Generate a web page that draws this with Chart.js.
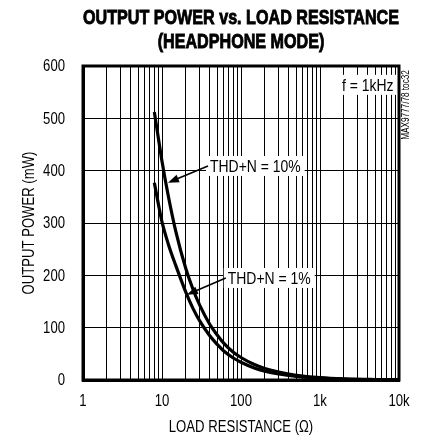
<!DOCTYPE html>
<html>
<head>
<meta charset="utf-8">
<script src="https://cdn.jsdelivr.net/npm/chart.js@4"></script>
<style>
  html, body { margin: 0; padding: 0; background: #fff; }
</style>
</head>
<body>
<canvas id="chart" width="421" height="440"></canvas>
<script>
// --- data ---
const loadOhms = [8, 9, 10, 12, 15, 20, 25, 30, 40, 50, 60, 80, 100, 150, 200, 300, 500, 1000, 2000, 5000, 10000];
const power10pct = [512, 462, 418, 352, 283, 213, 171, 143, 107, 86, 71, 53, 43, 29, 22, 15, 9, 4.5, 2.2, 0.9, 0.4];
const power1pct = [377, 336, 302, 260, 218, 168, 135, 113, 85, 68, 56, 42, 34, 22.5, 17, 11.5, 7, 3.5, 1.8, 0.7, 0.35];

const yTicks = [0, 100, 200, 300, 400, 500, 600];
const xDecades = [1, 10, 100, 1000, 10000];
const xDecadeLabels = ["1", "10", "100", "1k", "10k"];

// labels: text, anchor (ohms, mW) of text left-middle, arrow tip (ohms, mW)
const notes = [
    { text: "THD+N = 10%", at: [40.5, 409], tip: [11.9, 377] },
    { text: "THD+N = 1%", at: [68, 195], tip: [20.6, 163] },
    { text: "f = 1kHz", at: [1900, 564], tip: null },
];

const FONT = "Liberation Sans, sans-serif";
const NARROW = 0.82; // squeeze to look like a condensed face

// grid lines at 1..9 of every decade
const xGrid = [];
xDecades.slice(0, -1).forEach(d => {
    for (let i = 1; i < 10; i++) xGrid.push(d * i);
});
xGrid.push(10000);

// draw text squeezed horizontally
function narrowText(ctx, text, x, y, font, align, squeeze, heavy) {
    ctx.save();
    ctx.font = font;
    const w = ctx.measureText(text).width * squeeze;
    let left = x;
    if (align === "center") left = x - w / 2;
    if (align === "right") left = x - w;
    ctx.translate(left, y);
    ctx.scale(squeeze, 1);
    ctx.textAlign = "left";
    ctx.textBaseline = "middle";
    ctx.fillText(text, 0, 0);
    if (heavy) {
        ctx.lineWidth = heavy;
        ctx.strokeText(text, 0, 0);
    }
    ctx.restore();
    return w;
}

function arrow(ctx, x0, y0, x1, y1) {
    const a = Math.atan2(y1 - y0, x1 - x0);
    const len = 11, w = 4;
    ctx.beginPath();
    ctx.moveTo(x0, y0);
    ctx.lineTo(x1 - Math.cos(a) * len * 0.8, y1 - Math.sin(a) * len * 0.8);
    ctx.lineWidth = 1.5;
    ctx.stroke();
    ctx.beginPath();
    ctx.moveTo(x1, y1);
    ctx.lineTo(x1 - Math.cos(a) * len + Math.sin(a) * w, y1 - Math.sin(a) * len - Math.cos(a) * w);
    ctx.lineTo(x1 - Math.cos(a) * len - Math.sin(a) * w, y1 - Math.sin(a) * len + Math.cos(a) * w);
    ctx.closePath();
    ctx.fill();
}

const decorations = {
    id: "decorations",
    afterDatasetsDraw(chart) {
        const { ctx, chartArea: ca, scales: { x, y } } = chart;
        ctx.save();
        ctx.fillStyle = "#000";
        ctx.strokeStyle = "#000";

        // note labels with white boxes
        const noteFont = "17px " + FONT;
        notes.forEach(n => {
            const px = x.getPixelForValue(n.at[0]);
            const py = y.getPixelForValue(n.at[1]);
            ctx.font = noteFont;
            const w = ctx.measureText(n.text).width * NARROW;
            ctx.fillStyle = "#fff";
            ctx.fillRect(px - 4, py - 10, w + 8, 20);
            ctx.fillStyle = "#000";
            narrowText(ctx, n.text, px, py + 1, noteFont, "left", NARROW);
            if (n.tip) {
                arrow(ctx, px - 2, py, x.getPixelForValue(n.tip[0]), y.getPixelForValue(n.tip[1]));
            }
        });

        // frame
        ctx.lineWidth = 3;
        ctx.strokeRect(ca.left, ca.top, ca.right - ca.left, ca.bottom - ca.top);

        // tick labels
        const tickFont = "16px " + FONT;
        yTicks.forEach(v => {
            narrowText(ctx, String(v), ca.left - 18, y.getPixelForValue(v) + 1, tickFont, "right", NARROW);
        });
        xDecades.forEach((v, i) => {
            narrowText(ctx, xDecadeLabels[i], x.getPixelForValue(v), 402, tickFont, "center", NARROW);
        });

        // axis titles
        const titleFont = "16px " + FONT;
        narrowText(ctx, "LOAD RESISTANCE (\u03A9)", (ca.left + ca.right) / 2, 428, titleFont, "center", NARROW);
        ctx.save();
        ctx.translate(30, (ca.top + ca.bottom) / 2);
        ctx.rotate(-Math.PI / 2);
        narrowText(ctx, "OUTPUT POWER (mW)", 0, 0, titleFont, "center", NARROW);
        ctx.restore();

        // side tag
        ctx.save();
        ctx.translate(ca.right + 7, 105);
        ctx.rotate(-Math.PI / 2);
        narrowText(ctx, "MAX9777/78 toc32", 0, 0, "10px " + FONT, "center", NARROW);
        ctx.restore();

        // title, squeezed like a condensed heavy face
        const bold = "bold 21px " + FONT;
        const t1 = "OUTPUT POWER vs. LOAD RESISTANCE";
        const t2 = "(HEADPHONE MODE)";
        ctx.font = bold;
        const sx = (ca.right - ca.left) / ctx.measureText(t1).width;
        const cx = (ca.left + ca.right) / 2;
        narrowText(ctx, t1, cx, 18, bold, "center", sx, 0.9);
        narrowText(ctx, t2, cx, 42, bold, "center", sx, 0.9);

        ctx.restore();
    },
};

const ctx = document.getElementById("chart").getContext("2d");
const chart = new Chart(ctx, {
    type: "line",
    data: {
        datasets: [
            {
                label: "THD+N = 10%",
                data: loadOhms.map((r, i) => ({ x: r, y: power10pct[i] })),
                borderColor: "#000",
                borderWidth: 3.2,
                pointRadius: 0,
                cubicInterpolationMode: "monotone",
            },
            {
                label: "THD+N = 1%",
                data: loadOhms.map((r, i) => ({ x: r, y: power1pct[i] })),
                borderColor: "#000",
                borderWidth: 3.2,
                pointRadius: 0,
                cubicInterpolationMode: "monotone",
            },
        ],
    },
    options: {
        responsive: false,
        animation: false,
        layout: { padding: { top: 66, right: 22, left: 0, bottom: 0 } },
        plugins: {
            legend: { display: false },
            tooltip: { enabled: false },
        },
        scales: {
            x: {
                type: "logarithmic",
                min: 1,
                max: 10000,
                afterBuildTicks: s => { s.ticks = xGrid.map(v => ({ value: v })); },
                afterFit: s => { s.height = 60; },
                grid: { color: "#000", lineWidth: 1, drawTicks: false },
                border: { color: "#000", width: 3 },
                ticks: { display: false },
            },
            y: {
                min: 0,
                max: 600,
                afterBuildTicks: s => { s.ticks = yTicks.map(v => ({ value: v })); },
                afterFit: s => { s.width = 83; },
                grid: { color: "#000", lineWidth: 1, drawTicks: false },
                border: { color: "#000", width: 3 },
                ticks: { display: false },
            },
        },
    },
    plugins: [decorations],
});
</script>
</body>
</html>
